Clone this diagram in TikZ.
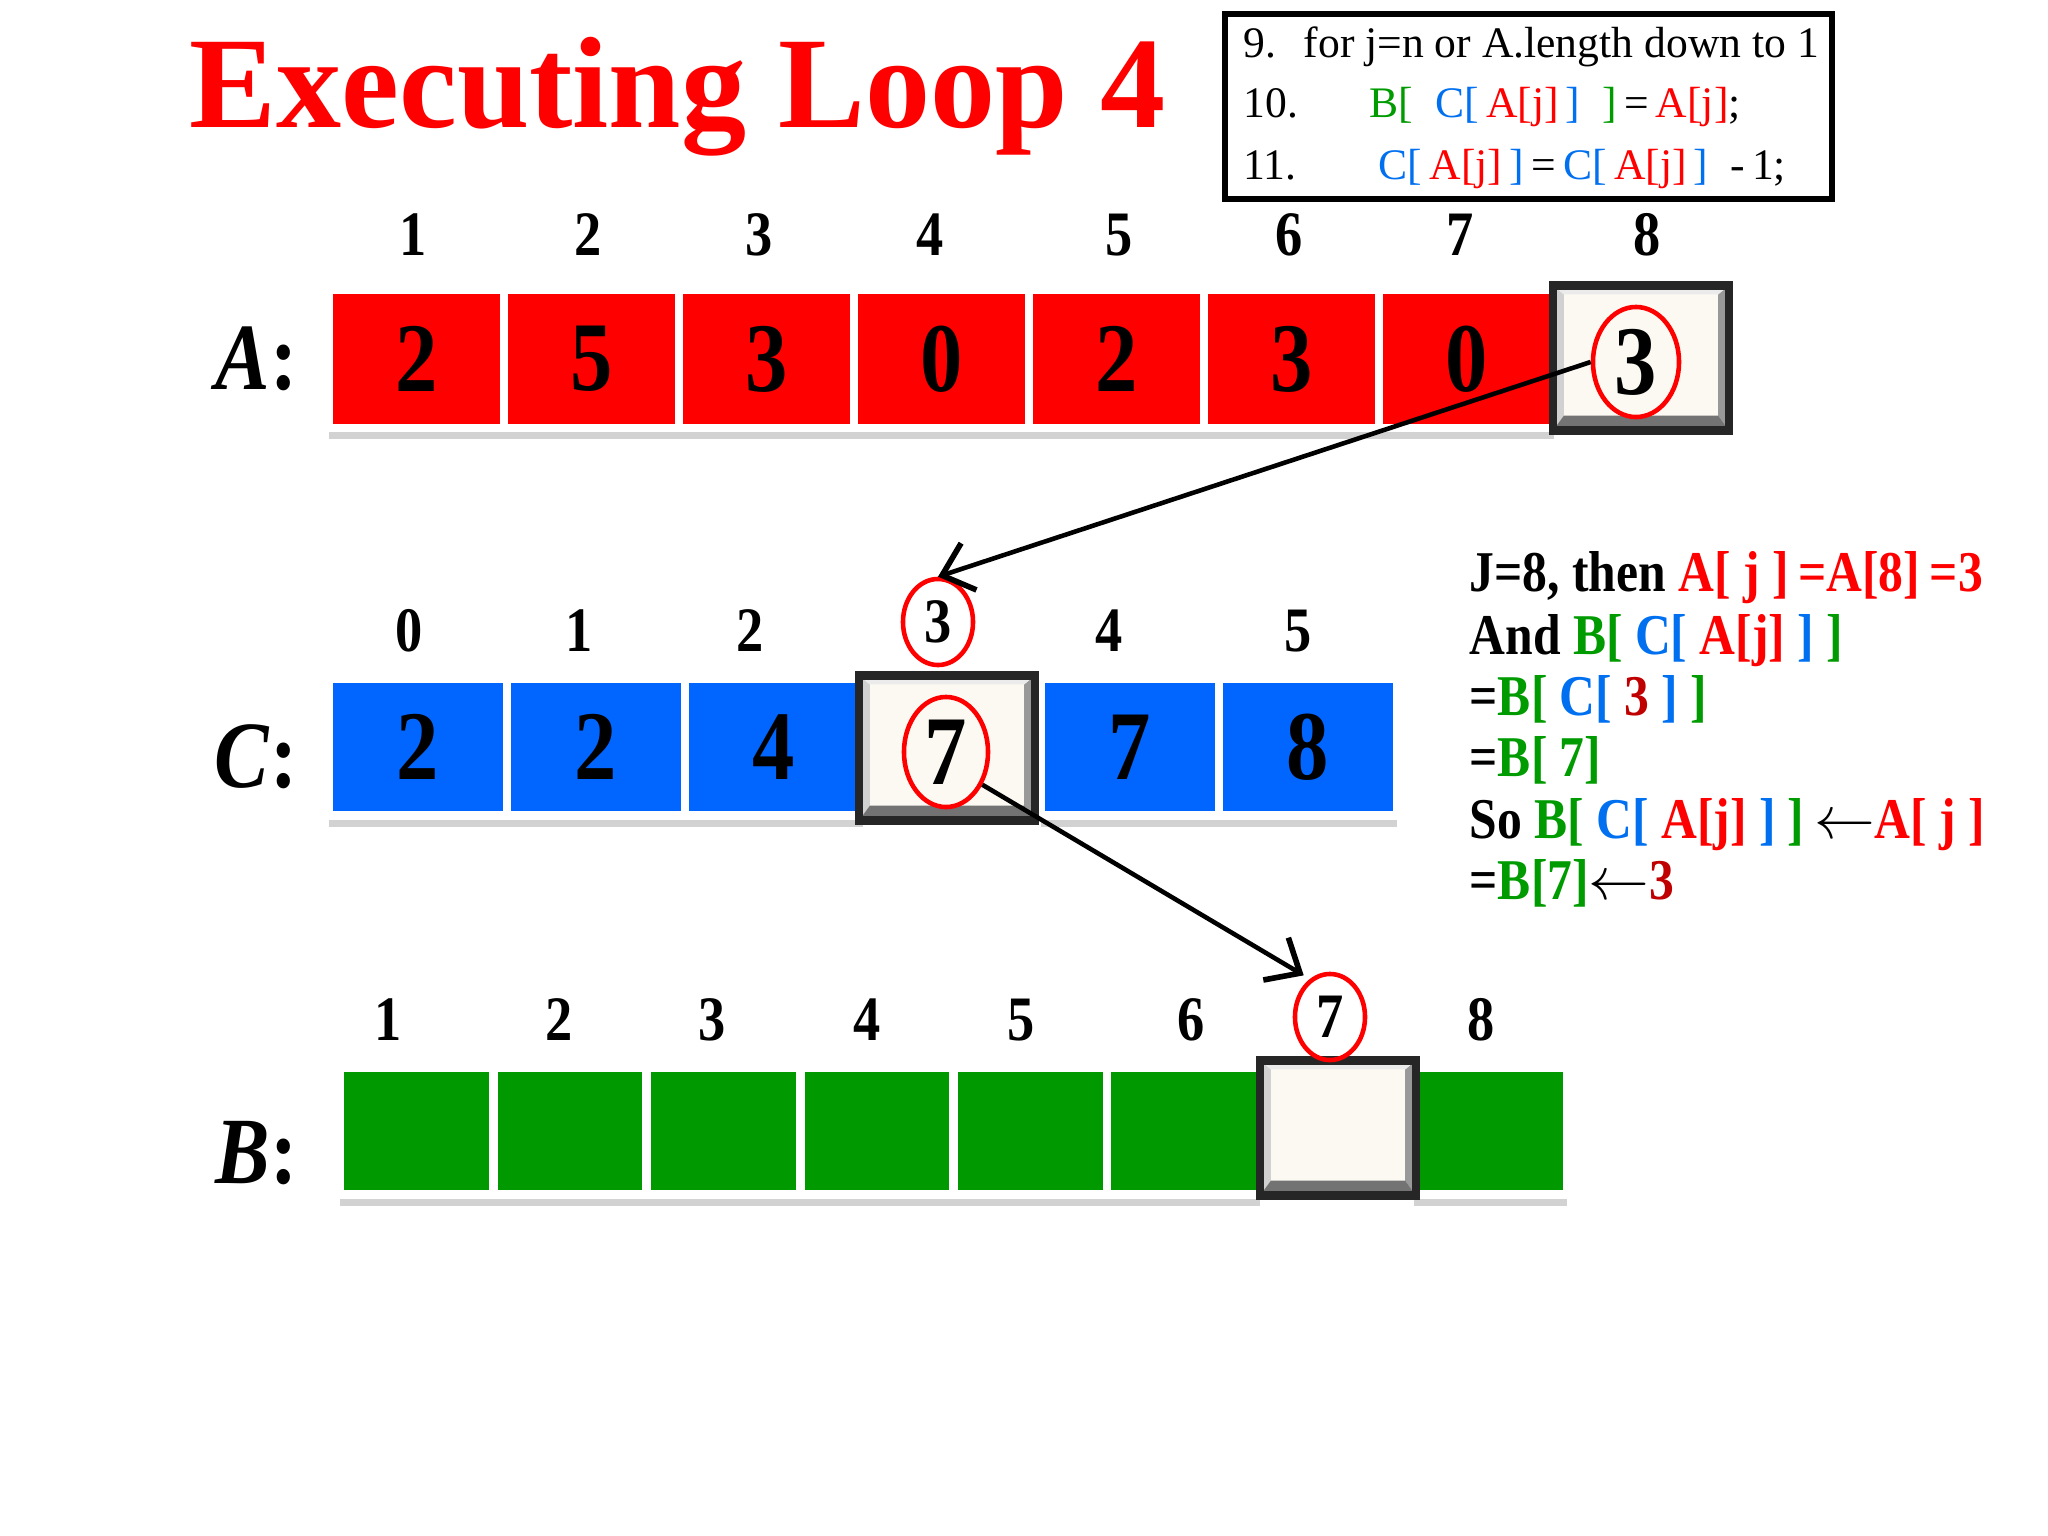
\documentclass[tikz,border=0pt]{standalone}
\usepackage{fontspec}
\setmainfont{Liberation Serif}
\newfontfamily\narrowfont[FakeStretch=0.86]{Liberation Serif}
\usetikzlibrary{shapes.geometric,shadows,arrows.meta}
\definecolor{cellred}{RGB}{255,0,0}
\definecolor{cellblue}{RGB}{0,102,255}
\definecolor{cellgreen}{RGB}{0,153,0}
\definecolor{txtgreen}{RGB}{0,155,0}
\definecolor{txtblue}{RGB}{0,112,240}
\definecolor{darkred}{RGB}{192,0,0}
\definecolor{cream}{RGB}{251,249,242}
\newcommand{\cgreen}[1]{\textcolor{txtgreen}{#1}}
\newcommand{\cblue}[1]{\textcolor{txtblue}{#1}}
\newcommand{\cred}[1]{\textcolor{red}{#1}}
\newcommand{\cdark}[1]{\textcolor{darkred}{#1}}
\newcommand{\bevelfill}{%
  \fill[black!18] (path picture bounding box.south west) -- (path picture bounding box.north west)
    -- ([shift={(0.11cm,-0.09cm)}]path picture bounding box.north west) -- ([shift={(0.11cm,0.15cm)}]path picture bounding box.south west) -- cycle;
  \fill[black!40] (path picture bounding box.south east) -- (path picture bounding box.north east)
    -- ([shift={(-0.11cm,-0.09cm)}]path picture bounding box.north east) -- ([shift={(-0.11cm,0.15cm)}]path picture bounding box.south east) -- cycle;
  \fill[black!8] (path picture bounding box.north west) -- (path picture bounding box.north east)
    -- ([shift={(-0.11cm,-0.09cm)}]path picture bounding box.north east) -- ([shift={(0.11cm,-0.09cm)}]path picture bounding box.north west) -- cycle;
  \fill[black!55] (path picture bounding box.south west) -- (path picture bounding box.south east)
    -- ([shift={(-0.11cm,0.15cm)}]path picture bounding box.south east) -- ([shift={(0.11cm,0.15cm)}]path picture bounding box.south west) -- cycle;}

\begin{document}
\begin{tikzpicture}[x=0.01cm, y=-0.01cm,
  val/.style={font=\narrowfont\bfseries\fontsize{28}{28}\selectfont},
  cell/.style={rectangle, val, draw=white, line width=2.5pt, inner sep=0pt,
    drop shadow={shadow xshift=0cm, shadow yshift=-0.11cm, opacity=0.35}},
  cellA/.style={cell, fill=cellred, minimum width=1.75cm, minimum height=1.38cm},
  cellC/.style={cell, fill=cellblue, minimum width=1.78cm, minimum height=1.37cm},
  cellB/.style={cell, fill=cellgreen, minimum width=1.534cm, minimum height=1.27cm},
  hlbox/.style={rectangle, fill=cream, draw=black!85, line width=2.4pt, inner sep=0pt, path picture={\bevelfill}},
  idx/.style={inner sep=0pt, font=\narrowfont\bfseries\fontsize{18}{18}\selectfont},
  rowlab/.style={anchor=east, inner sep=0pt, font=\narrowfont\bfseries\fontsize{27}{27}\selectfont},
  ring/.style={ellipse, draw=red, line width=1.3pt, inner sep=0pt},
  code/.style={anchor=base west, inner sep=0pt, font=\fontsize{12.4}{12.4}\selectfont},
  note/.style={anchor=base west, inner sep=0pt, font=\narrowfont\bfseries\fontsize{16.4}{16.4}\selectfont},
  arr/.style={line width=1.3pt, -{Straight Barb[length=8pt, width=14pt, line width=1.6pt]}}]

\fill[white] (0,0) rectangle (2048,1536);
\useasboundingbox (0,0) rectangle (2048,1536);

% title and pseudo code
\node[anchor=base west, inner sep=0pt, text=red, font=\bfseries\fontsize{37}{37}\selectfont] (title) at (189,127) {Executing Loop 4};
\draw[line width=1.6pt] (1225,14) rectangle (1832,199);
\node[code] (n9) at (1243,57) {9.};
\node[code] (c9) at (1303,57) {for j=n or A.length down to 1};
\node[code] (n10) at (1243,117) {10.};
\node[code] (c10) at (1369,117) {\cgreen{B[}\ \ \cblue{C[}\,\cred{A[j]}\,\cblue{]}\ \ \cgreen{]}\,=\,\cred{A[j]};};
\node[code] (n11) at (1243,179) {11.};
\node[code] (c11) at (1378,179) {\cblue{C[}\,\cred{A[j]}\,\cblue{]}\,=\,\cblue{C[}\,\cred{A[j]}\,\cblue{]}\ \ -\,1;};

% array A
\node[rowlab] (labA) at (298,359) {\textit{A}:};
\foreach \v [count=\i] in {2,5,3,0,2,3,0}
  \node[cellA] (A\i) at (329+175*\i-87.5,359) {\v};
\node[hlbox, minimum width=1.76cm, minimum height=1.45cm] (A8) at (1641,358) {};
\node[ring, val, minimum width=0.86cm, minimum height=1.1cm] (rA) at (1636,362) {3};
\foreach \x [count=\i] in {413,588,759,930,1119,1289,1460,1647}
  \node[idx] (Ai\i) at (\x,235) {\i};

% array C
\node[rowlab] (labC) at (298,757) {\textit{C}:};
\foreach \i/\v in {0/2,1/2,2/4,4/7,5/8}
  \node[cellC] (C\i) at (418+178*\i,747) {\v};
\node[hlbox, minimum width=1.76cm, minimum height=1.45cm] (C3) at (947,748) {};
\node[ring, val, minimum width=0.84cm, minimum height=1.1cm] (rC) at (946,752) {7};
\foreach \x/\i in {409/0,579/1,750/2,1109/4,1298/5}
  \node[idx] (Ci\i) at (\x,631) {\i};
\node[idx, ring, minimum width=0.7cm, minimum height=0.86cm] (Ci3) at (938,622) {3};

% array B
\node[rowlab] (labB) at (298,1153) {\textit{B}:};
\foreach \i in {1,...,6,8}
  \node[cellB] (B\i) at (340+153.4*\i-76.7,1131) {};
\node[hlbox, minimum width=1.56cm, minimum height=1.35cm] (B7) at (1338,1128) {};
\foreach \x [count=\i] in {388,559,712,867,1021,1191}
  \node[idx] (Bi\i) at (\x,1020) {\i};
\node[idx] (Bi8) at (1481,1020) {8};
\node[idx, ring, minimum width=0.7cm, minimum height=0.86cm] (Bi7) at (1330,1017) {7};

% arrows
\draw[arr] (rA.west) -- (Ci3.north);
\draw[arr, shorten >=2pt] (rC.-42) -- (Bi7.118);

% explanation
\node[note] (l1) at (1469,591) {J=8, then \cred{A[ j ]\,=A[8]\,=3}};
\node[note] (l2) at (1469,654) {And \cgreen{B[} \cblue{C[} \cred{A[j]} \cblue{]} \cgreen{]}};
\node[note] (l3) at (1469,715) {=\cgreen{B[} \cblue{C[} \cdark{3} \cblue{]} \cgreen{]}};
\node[note] (l4) at (1469,776) {=\cgreen{B[ 7]}};
\node[note] (l5) at (1469,838) {So \cgreen{B[} \cblue{C[} \cred{A[j]} \cblue{]} \cgreen{]}\,{\mdseries$\leftarrow$}\cred{A[ j ]}};
\node[note] (l6) at (1469,899) {=\cgreen{B[7]}{\mdseries$\leftarrow$}\cdark{3}};
\end{tikzpicture}
\end{document}
